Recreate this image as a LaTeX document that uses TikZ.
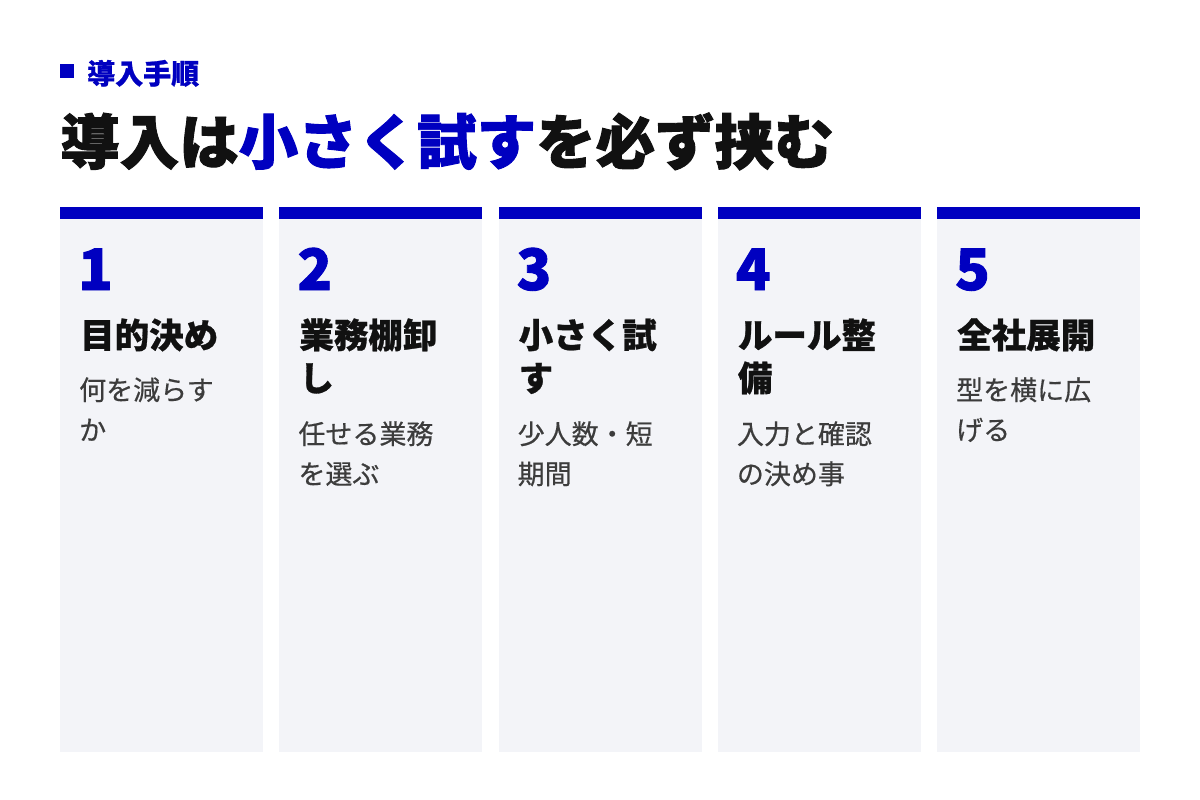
\documentclass[tikz,border=0pt]{standalone}
\usepackage{fontspec}
\newfontfamily\jp{Noto Sans CJK JP}
\newfontfamily\jpheavy{Noto Sans CJK JP}[BoldFeatures={FakeBold=1.6}]
\newfontfamily\jpmed{Noto Sans CJK JP}[BoldFeatures={FakeBold=0.8}]
\newfontfamily\jpdesc{Noto Sans CJK JP}[UprightFeatures={FakeBold=0.5}]
\definecolor{brand}{HTML}{0000C0}
\definecolor{panel}{HTML}{F3F4F8}
\definecolor{inkc}{HTML}{111111}
\definecolor{subc}{HTML}{3C3C3C}
\tikzset{
  stepnum/.style={anchor=base west,inner sep=0pt,text=brand,font=\jpheavy\bfseries\fontsize{57}{60}\selectfont},
  steptitle/.style={anchor=base west,inner sep=0pt,text width=175pt,align=left,text=inkc,font=\jpmed\bfseries\fontsize{34.5}{43}\selectfont},
  stepdesc/.style={anchor=base west,inner sep=0pt,text width=175pt,align=left,text=subc,font=\jpdesc\fontsize{27}{40}\selectfont},
}
\begin{document}
\begin{tikzpicture}[x=1pt,y=-1pt]
\useasboundingbox[fill=white] (0,0) rectangle (1200,800);
% header
\node[fill=brand,minimum width=14pt,minimum height=14pt,inner sep=0pt,anchor=north west] (sq) at (60,64) {};
\node[anchor=base west,inner sep=0pt,text=brand,font=\jpmed\bfseries\fontsize{28}{30}\selectfont] (label) at (87,84) {導入手順};
\node[anchor=base west,inner sep=0pt,text=inkc,font=\jpheavy\bfseries\fontsize{59.5}{64}\selectfont] (title) at (60,164) {導入は\textcolor{brand}{小さく試す}を必ず挟む};
% columns
\foreach \i/\t/\d/\db in {
  0/{目的決め}/{何を減らす\\か}/400,
  1/{業務棚卸\\し}/{任せる業務\\を選ぶ}/444,
  2/{小さく試\\す}/{少人数・短\\期間}/444,
  3/{ルール整\\備}/{入力と確認\\の決め事}/444,
  4/{全社展開}/{型を横に広\\げる}/400}{
  \pgfmathsetmacro{\cx}{60+\i*219.25}
  \pgfmathtruncatemacro{\num}{\i+1}
  \fill[panel] (\cx,219) rectangle ++(203,533);
  \fill[brand] (\cx,207) rectangle ++(203,12);
  \node[stepnum] (n\num) at (\cx+18,290) {\num};
  \node[steptitle] (t\num) at (\cx+20,348) {\t};
  \node[stepdesc] (d\num) at (\cx+19,\db) {\d};
}
\end{tikzpicture}
\end{document}
